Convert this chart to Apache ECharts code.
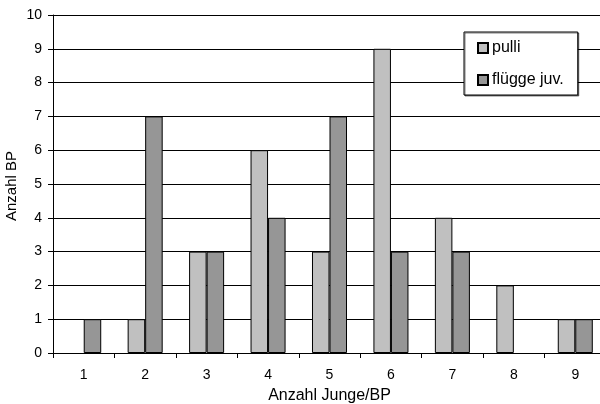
<!DOCTYPE html>
<html><head><meta charset="utf-8">
<script src="https://cdn.jsdelivr.net/npm/echarts@6/dist/echarts.min.js"></script>
<style>html,body{margin:0;padding:0;background:#fff}#c{width:600px;height:404px}</style>
</head><body><div id="c"></div>
<script>
const categories = ['1','2','3','4','5','6','7','8','9'];
const pulli = [0,1,3,6,3,9,4,2,1];
const fluegge = [1,7,3,4,7,3,3,0,1];
const seriesNames = ['pulli','flügge juv.'];
const xTitle = 'Anzahl Junge/BP';
const yTitle = 'Anzahl BP';

const hideZero = arr => arr.map(v => v === 0 ? '-' : v);
const font = 'Arial, "Liberation Sans", sans-serif';
const chart = echarts.init(document.getElementById('c'), null, {renderer:'canvas'});
chart.setOption({
  animation:false,
  backgroundColor:'#fff',
  textStyle:{fontFamily:font, color:'#000'},
  grid:{left:53, right:-6, top:15, bottom:51, containLabel:false, outerBoundsMode:'none'},
  graphic:[{
    type:'text', x:12, y:186, rotation:Math.PI/2,
    style:{text:yTitle, fontFamily:font, fontSize:15, fill:'#000', align:'center', verticalAlign:'middle'}
  }],
  legend:{
    orient:'vertical', left:464, top:32,
    itemWidth:10, itemHeight:10, itemGap:16,
    padding:[8,14,7,13],
    backgroundColor:'#fff', borderColor:'#000', borderWidth:1,
    shadowColor:'rgba(0,0,0,0.5)', shadowOffsetX:1, shadowOffsetY:1, shadowBlur:0,
    textStyle:{fontFamily:font, fontSize:16, color:'#000', padding:[0,0,0,-1]},
    icon:'rect',
    data:seriesNames
  },
  xAxis:{
    type:'category', data:categories,
    name:xTitle, nameLocation:'middle', nameGap:35,
    nameTextStyle:{fontFamily:font, fontSize:16, color:'#000', verticalAlign:'top'},
    axisLine:{lineStyle:{color:'#000', width:1}},
    axisTick:{show:true, length:5, lineStyle:{color:'#000'}},
    axisLabel:{fontFamily:font, fontSize:14, color:'#000', margin:15},
    splitLine:{show:false}
  },
  yAxis:{
    type:'value', min:0, max:10, interval:1,
    axisLine:{show:true, lineStyle:{color:'#000', width:1}},
    axisTick:{show:true, length:5, lineStyle:{color:'#000'}},
    axisLabel:{fontFamily:font, fontSize:14, color:'#000', margin:11},
    splitLine:{show:true, lineStyle:{color:'#000', width:1}}
  },
  series:[
    {name:seriesNames[0], type:'bar', data:hideZero(pulli), barGap:'0%', barCategoryGap:'43%',
     itemStyle:{color:'#C0C0C0', borderColor:'#000', borderWidth:1}},
    {name:seriesNames[1], type:'bar', data:hideZero(fluegge), barGap:'0%', barCategoryGap:'43%',
     itemStyle:{color:'#969696', borderColor:'#000', borderWidth:1}}
  ]
});
</script></body></html>
